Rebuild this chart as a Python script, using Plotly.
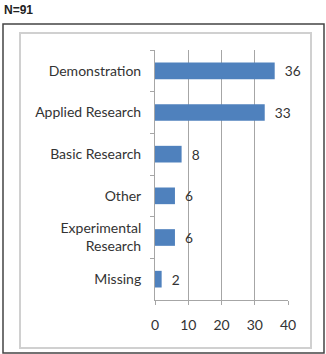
import plotly.graph_objects as go

categories = ["Demonstration", "Applied Research", "Basic Research", "Other", "Experimental<br>Research", "Missing"]
values = [36, 33, 8, 6, 6, 2]
x_ticks = [0, 10, 20, 30, 40]
title_text = "N=91"

W, H = 326, 354
L, R, T, B = 155, 38, 50, 54
pw, ph = W - L - R, H - T - B

def px(x):
    return (x - L) / pw

def py(y):
    return (H - B - y) / ph

FONT = "Lato, Open Sans, sans-serif"

fig = go.Figure()
fig.add_trace(go.Bar(
    y=categories, x=values, orientation="h",
    marker=dict(color="#4F81BD", line=dict(width=0)),
    width=0.4,
    text=[f"  {v}" for v in values], textposition="outside",
    textfont=dict(family=FONT, size=14, color="#333333"),
    cliponaxis=False,
))

fig.update_layout(
    width=W, height=H,
    margin=dict(l=L, r=R, t=T, b=B),
    paper_bgcolor="white", plot_bgcolor="white",
    showlegend=False,
    font=dict(family=FONT, size=14, color="#333333"),
    xaxis=dict(range=[0, 40], tickvals=x_ticks, showgrid=True, gridcolor="#A6A6A6", gridwidth=1,
               showline=True, linecolor="#A6A6A6", ticks="outside", ticklen=4, tickcolor="#A6A6A6",
               zeroline=False, fixedrange=True, tickfont=dict(size=14), ticklabelstandoff=8),
    yaxis=dict(autorange="reversed", showline=True, linecolor="#A6A6A6", ticks="outside",
               tickson="boundaries", ticklen=4, tickcolor="#A6A6A6", showgrid=False,
               fixedrange=True, ticklabelstandoff=10, tickfont=dict(size=14)),
    shapes=[
        dict(type="rect", xref="paper", yref="paper", x0=px(3), x1=px(324), y0=py(353), y1=py(24),
             line=dict(color="#444444", width=1.5), fillcolor="rgba(0,0,0,0)", layer="below"),
        dict(type="rect", xref="paper", yref="paper", x0=px(20), x1=px(311), y0=py(348), y1=py(33),
             line=dict(color="#D0D0D0", width=2), fillcolor="rgba(0,0,0,0)", layer="below"),
    ],
    annotations=[dict(text="<b>" + title_text + "</b>", xref="paper", yref="paper", x=px(2), y=py(10),
                      xanchor="left", yanchor="middle", showarrow=False,
                      font=dict(family="Liberation Sans, Arial, sans-serif", size=12, color="#222222"))],
)

fig.write_html("out.html")
